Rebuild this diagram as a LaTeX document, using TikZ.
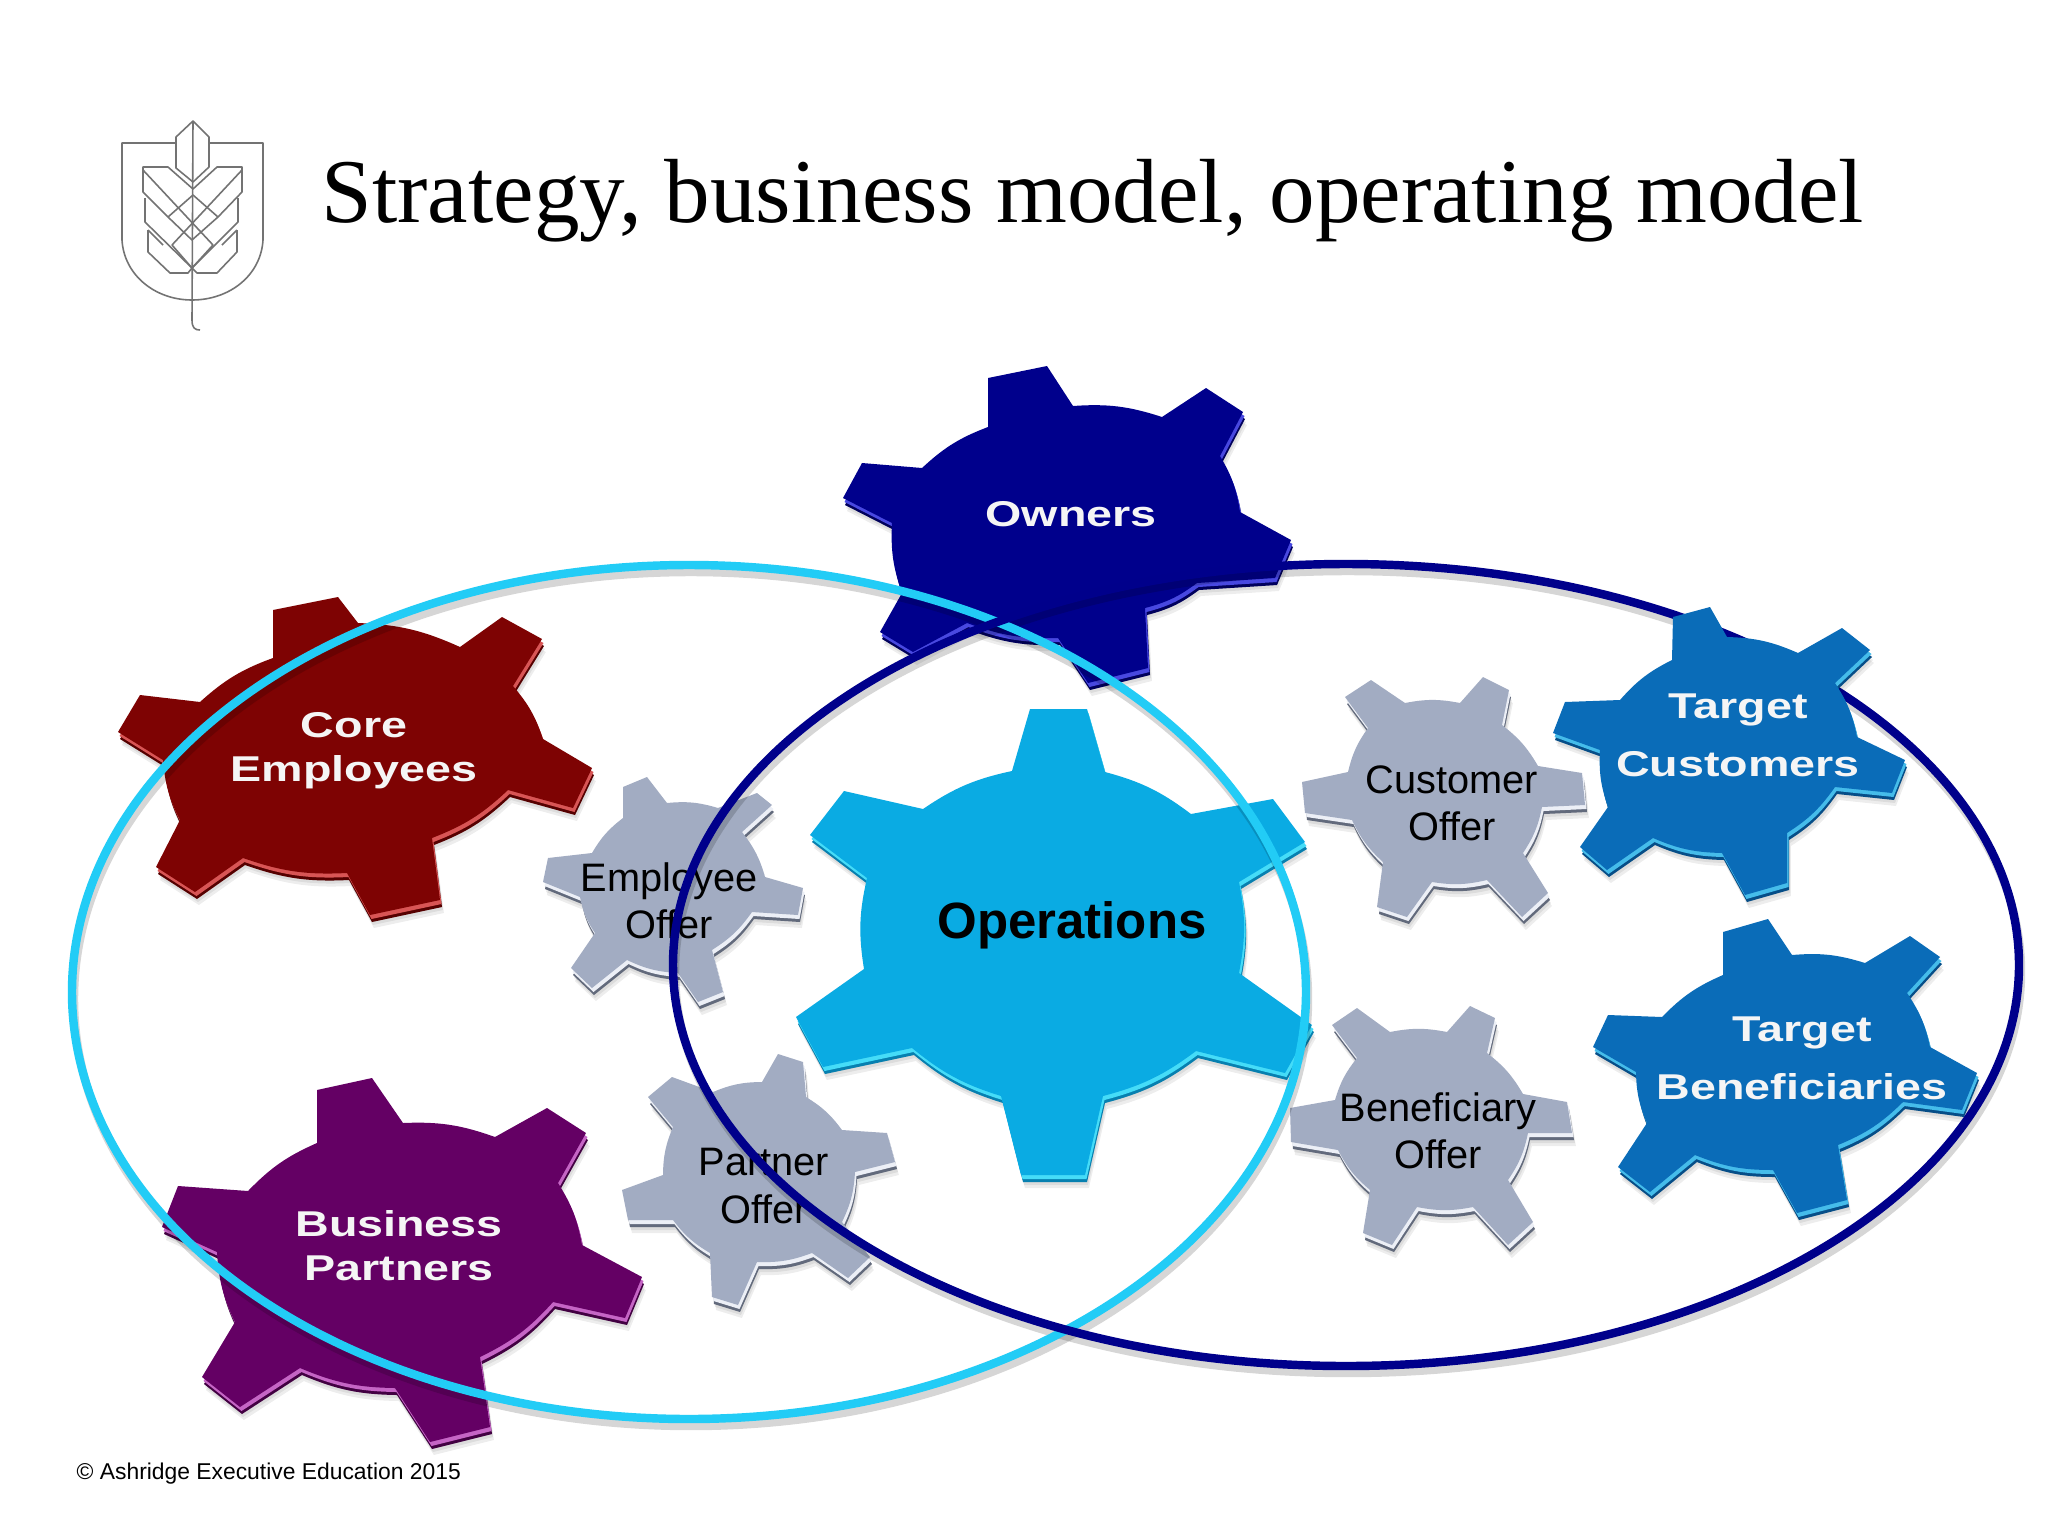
\documentclass[tikz,border=0pt]{standalone}
\usepackage{fontspec}
\setmainfont{Liberation Sans}
\newfontfamily\titlefont{Liberation Serif}
\newfontfamily\gearfont[FakeStretch=1.3]{Liberation Sans}
\usepackage{tikz}
\usetikzlibrary{positioning}
\definecolor{coreA}{HTML}{7E0303}
\definecolor{coreB}{HTML}{D85555}
\definecolor{coreC}{HTML}{560000}
\definecolor{partA}{HTML}{640064}
\definecolor{partB}{HTML}{C565C5}
\definecolor{partC}{HTML}{420042}
\definecolor{ownA}{HTML}{00008C}
\definecolor{ownB}{HTML}{4848E0}
\definecolor{ownC}{HTML}{00005C}
\definecolor{opsA}{HTML}{0AABE3}
\definecolor{opsB}{HTML}{45DCF8}
\definecolor{opsC}{HTML}{0780B0}
\definecolor{tarA}{HTML}{0A6CB8}
\definecolor{tarB}{HTML}{45BCEA}
\definecolor{tarC}{HTML}{064E88}
\definecolor{offA}{HTML}{A2ACC2}
\definecolor{offB}{HTML}{ECEFF6}
\definecolor{offC}{HTML}{626A7C}
\definecolor{ringL}{HTML}{22CCF6}
\definecolor{ringD}{HTML}{00008B}
\tikzset{
  ga/.style={bend left=11},
  gearshadow/.style={fill=black,opacity=.07},
  ringshadow/.style={draw=black,opacity=.16,line width=2.4pt},
  logoline/.style={draw=black!55,line width=.45pt,line join=round},
  bigtext/.style={font=\gearfont\bfseries\fontsize{10.2}{12.5}\selectfont,text=white!96!black,align=center,inner sep=0pt},
  offertext/.style={font=\fontsize{11.3}{13.4}\selectfont,align=center,inner sep=0pt}
}
\newcommand{\gear}[2]{
  \foreach \s in {7,10,13} \fill[gearshadow,shift={(0.3*\s,\s)}] #2 -- cycle;
  \fill[#1C,shift={(2,7)}] #2 -- cycle;
  \fill[#1B,shift={(1.5,4)}] #2 -- cycle;
  \fill[#1A] #2 -- cycle;
}
\begin{document}
\begin{tikzpicture}[x=0.01cm,y=-0.01cm]
  \useasboundingbox (0,0) rectangle (2048,1536);
  \fill[white] (0,0) rectangle (2048,1536);

  \path[logoline] (175,143) -- (122,143) -- (122,240) .. controls (124,275) and (155,300) .. (192,300) .. controls (230,300) and (261,275) .. (263,240) -- (263,143) -- (209,143);
  \path[logoline] (176,168) -- (176,137) -- (193,121) -- (209,137) -- (209,167) -- (193,182) -- cycle;
  \path[logoline] (193,121) -- (192,320) .. controls (192,328) and (195,330) .. (200,330);
  \path[logoline] (143,167) -- (168,167) -- (193,189) -- (217,167) -- (242,167) -- (242,192) -- (218,217) -- (193,195) -- (168,217) -- (143,192) -- cycle;
  \path[logoline] (143,170) -- (213,245) (242,170) -- (172,245);
  \path[logoline] (168,217) -- (192,240) -- (218,217) (172,245) -- (192,268) -- (213,245);
  \path[logoline] (145,198) -- (145,222) -- (192,268) -- (238,222) -- (238,198);
  \path[logoline] (148,230) -- (148,252) -- (170,273) -- (188,273) -- (192,268) -- (197,273) -- (217,273) -- (237,252) -- (237,230);
  \path[logoline] (148,230) -- (163,245) (237,230) -- (222,245);

  \gear{own}{(988,378) -- (1047,366) -- (1073,406) to[ga] (1162,417) -- (1206,388) -- (1243,412) -- (1220,456) to[ga] (1240,512) -- (1291,540) -- (1275,578) -- (1197,583) to[ga] (1145,608) -- (1148,668) -- (1088,683) -- (1058,638) to[ga] (967,623) -- (913,652) -- (880,632) -- (902,593) to[ga] (892,523) -- (843,498) -- (862,463) -- (922,468) to[ga] (988,427)}
  \gear{core}{(273,610) -- (338,597) -- (358,623) to[ga] (460,647) -- (502,617) -- (542,639) -- (513,686) to[ga] (543,739) -- (592,768) -- (573,808) -- (508,790) to[ga] (432,838) -- (440,900) -- (370,915) -- (347,873) to[ga] (243,858) -- (195,892) -- (156,867) -- (180,820) to[ga] (163,760) -- (118,732) -- (140,695) -- (200,702) to[ga] (273,658)}
  \gear{part}{(317,1090) -- (372,1078) -- (403,1123) to[ga] (495,1137) -- (547,1108) -- (586,1133) -- (558,1183) to[ga] (582,1245) -- (642,1277) -- (625,1318) -- (553,1302) to[ga] (480,1357) -- (490,1427) -- (430,1442) -- (395,1388) to[ga] (300,1368) -- (240,1407) -- (202,1377) -- (235,1322) to[ga] (217,1252) -- (162,1227) -- (178,1186) -- (248,1191) to[ga] (317,1143)}
  \gear{off}{(623,787) -- (647,777) -- (667,803) to[ga] (718,808) -- (757,793) -- (772,805) -- (742,832) to[ga] (765,877) -- (803,888) -- (798,915) -- (752,912) to[ga] (712,950) -- (723,992) -- (698,1002) -- (678,973) to[ga] (627,960) -- (592,988) -- (571,968) -- (595,933) to[ga] (580,897) -- (543,882) -- (548,858) -- (592,853) to[ga] (623,818)}
  \gear{off}{(648,1097) -- (672,1077) -- (713,1092) to[ga] (762,1082) -- (778,1054) -- (803,1062) -- (806,1097) to[ga] (842,1130) -- (887,1133) -- (895,1162) -- (855,1172) to[ga] (842,1222) -- (870,1257) -- (848,1278) -- (812,1253) to[ga] (757,1262) -- (738,1305) -- (712,1297) -- (710,1253) to[ga] (673,1220) -- (628,1220) -- (622,1190) -- (663,1175) to[ga] (673,1127)}
  \gear{ops}{(1030,709) -- (1087,709) -- (1105,772) to[ga] (1191,814) -- (1273,799) -- (1305,842) -- (1239,882) to[ga] (1239,973) -- (1312,1025) -- (1285,1073) -- (1196,1051) to[ga] (1103,1096) -- (1085,1175) -- (1021,1175) -- (1001,1096) to[ga] (912,1048) -- (823,1067) -- (796,1017) -- (864,969) to[ga] (867,878) -- (810,835) -- (844,791) -- (923,809) to[ga] (1012,771)}
  \gear{off}{(1345,697) -- (1371,680) -- (1405,703) to[ga] (1460,703) -- (1483,677) -- (1509,690) -- (1502,725) to[ga] (1538,766) -- (1582,773) -- (1585,805) -- (1542,807) to[ga] (1523,853) -- (1548,893) -- (1522,917) -- (1487,880) to[ga] (1432,882) -- (1407,917) -- (1377,907) -- (1383,862) to[ga] (1352,820) -- (1305,813) -- (1302,782) -- (1348,772) to[ga] (1368,728)}
  \gear{off}{(1332,1025) -- (1357,1008) -- (1390,1032) to[ga] (1447,1032) -- (1470,1006) -- (1495,1018) -- (1487,1053) to[ga] (1523,1094) -- (1567,1102) -- (1572,1133) -- (1528,1133) to[ga] (1508,1180) -- (1533,1222) -- (1508,1245) -- (1473,1207) to[ga] (1417,1207) -- (1392,1245) -- (1363,1233) -- (1370,1190) to[ga] (1338,1150) -- (1291,1142) -- (1290,1108) -- (1335,1100) to[ga] (1357,1058)}
  \gear{tar}{(1723,932) -- (1768,919) -- (1792,955) to[ga] (1865,963) -- (1910,936) -- (1940,957) -- (1907,993) to[ga] (1930,1047) -- (1977,1073) -- (1962,1110) -- (1903,1102) to[ga] (1838,1145) -- (1847,1200) -- (1797,1213) -- (1773,1170) to[ga] (1695,1155) -- (1650,1192) -- (1618,1167) -- (1647,1123) to[ga] (1636,1072) -- (1593,1047) -- (1608,1015) -- (1662,1017) to[ga] (1723,975)}

  \node[bigtext] (L_owners) at (1071,514) {Owners};
  \node[bigtext] (L_core) at (354,751) {Core\\Employees};
  \node[bigtext] (L_part) at (399,1246) {Business\\Partners};
  \node[bigtext] (L_benef) at (1802,1058) {Target\\[4pt]Beneficiaries};
  \node[offertext] (O_emp) at (669,901) {Employee\\Offer};
  \node[offertext] (O_par) at (764,1186) {Partner\\Offer};
  \node[offertext] (O_cus) at (1452,803) {Customer\\Offer};
  \node[offertext] (O_ben) at (1438,1131) {Beneficiary\\Offer};
  \node[inner sep=0pt,font=\bfseries\fontsize{14.5}{17}\selectfont] (L_ops) at (1072,925) {Operations};

  \draw[ringshadow,shift={(2,7)}] (689,992) ellipse (617 and 427);
  \draw[ringshadow,shift={(2,7)}] (1346,965) ellipse (673 and 401);
  \draw[ringL,line width=2.4pt] (689,992) ellipse (617 and 427);
  \draw[ringD,line width=2.4pt] (1346,965) ellipse (673 and 401);

  \gear{tar}{(1673,617) -- (1710,607) -- (1727,637) to[ga] (1798,653) -- (1842,628) -- (1870,650) -- (1835,683) to[ga] (1857,737) -- (1905,760) -- (1892,793) -- (1835,787) to[ga] (1787,833) -- (1787,883) -- (1745,895) -- (1722,853) to[ga] (1653,838) -- (1607,870) -- (1580,847) -- (1608,807) to[ga] (1600,750) -- (1553,733) -- (1565,702) -- (1620,700) to[ga] (1672,660)}
  \node[bigtext] (L_cust) at (1738,735) {Target\\[4pt]Customers};

  \node[anchor=base west,inner sep=0pt,font=\titlefont\fontsize{25.9}{30}\selectfont] (T_main) at (321,222) {Strategy, business model, operating model};
  \node[anchor=west,inner sep=0pt,font=\fontsize{6.5}{8}\selectfont] (T_copy) at (76,1474) {© Ashridge Executive Education 2015};
\end{tikzpicture}
\end{document}
